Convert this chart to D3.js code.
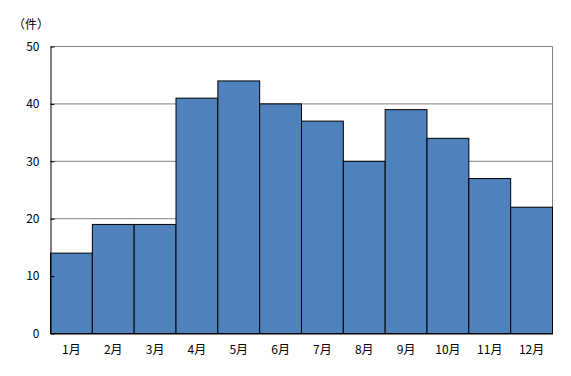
<!DOCTYPE html>
<html>
<head>
<meta charset="utf-8">
<script src="https://cdn.jsdelivr.net/npm/d3@7"></script>
<style>
  body { margin: 0; background: #fff; }
  text { font-family: "Noto Sans CJK JP", sans-serif; font-size: 12px; fill: #000; }
</style>
</head>
<body>
<script>
var months = ["1月", "2月", "3月", "4月", "5月", "6月", "7月", "8月", "9月", "10月", "11月", "12月"];
var counts = [14, 19, 19, 41, 44, 40, 37, 30, 39, 34, 27, 22];
var yTicks = [0, 10, 20, 30, 40, 50];

var width = 571, height = 376;
var margin = { left: 50.5, right: 18.5, top: 46.5, bottom: 42.5 };

var svg = d3.select("body").append("svg")
    .attr("width", width)
    .attr("height", height);

var x = d3.scaleBand()
    .domain(months)
    .range([margin.left, width - margin.right])
    .padding(0);

var y = d3.scaleLinear()
    .domain([0, 50])
    .range([height - margin.bottom, margin.top]);

// gridlines
svg.append("g")
    .selectAll("line")
    .data(yTicks.slice(1))
    .enter().append("line")
    .attr("x1", margin.left)
    .attr("x2", width - margin.right)
    .attr("y1", function (d) { return y(d); })
    .attr("y2", function (d) { return y(d); })
    .style("stroke", "#808080")
    .style("stroke-width", 1);

// right border
svg.append("line")
    .attr("x1", width - margin.right)
    .attr("x2", width - margin.right)
    .attr("y1", margin.top)
    .attr("y2", height - margin.bottom)
    .style("stroke", "#808080");

// bars
svg.append("g")
    .selectAll("rect")
    .data(counts)
    .enter().append("rect")
    .attr("x", function (d, i) { return x(months[i]); })
    .attr("y", function (d) { return y(d); })
    .attr("width", x.bandwidth())
    .attr("height", function (d) { return y(0) - y(d); })
    .style("fill", "#4f81bd")
    .style("stroke", "#000")
    .style("stroke-width", 1);

// y axis
var yAxis = svg.append("g")
    .attr("transform", "translate(" + margin.left + ",0)")
    .call(d3.axisLeft(y).tickValues(yTicks).tickSizeInner(-4).tickSizeOuter(0).tickPadding(11));
yAxis.select(".domain").style("stroke", "#000");
yAxis.selectAll(".tick line").style("stroke", "#000");
yAxis.selectAll("text").style("font-size", "12px").attr("fill", "#000");

// x axis
var xAxis = svg.append("g")
    .attr("transform", "translate(0," + (height - margin.bottom) + ")")
    .call(d3.axisBottom(x).tickSize(0).tickPadding(12));
xAxis.select(".domain").style("stroke", "#000");
xAxis.selectAll("text").style("font-size", "12px").attr("fill", "#000");

// unit label
svg.append("text")
    .attr("x", 13)
    .attr("y", 29)
    .text("（件）");
</script>
</body>
</html>
